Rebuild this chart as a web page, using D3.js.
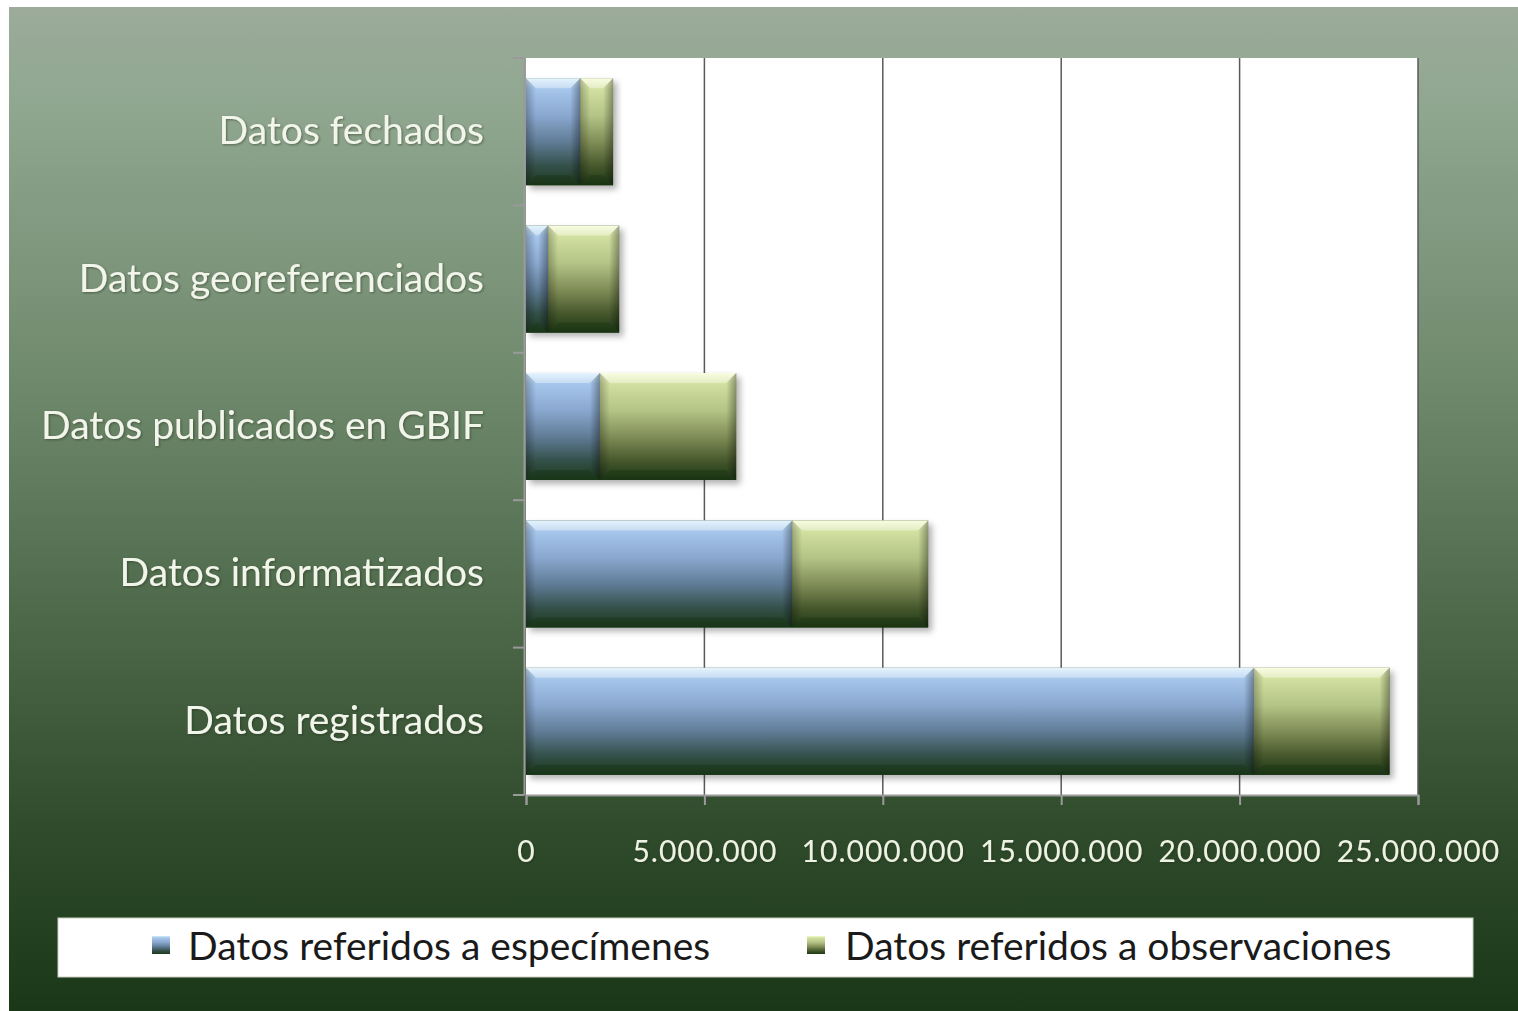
<!DOCTYPE html>
<html><head><meta charset="utf-8">
<script src="https://cdn.jsdelivr.net/npm/d3@7"></script>
<style>html,body{margin:0;padding:0;background:#fff;}svg{display:block;}</style>
</head><body>
<svg id="c" width="1518" height="1011"></svg>
<script>
const categories = ["Datos fechados","Datos georeferenciados","Datos publicados en GBIF","Datos informatizados","Datos registrados"];
const especimenes = [1520000, 620000, 2070000, 7460000, 20400000];
const observaciones = [920000, 1990000, 3820000, 3810000, 3800000];
const seriesNames = ["Datos referidos a especímenes","Datos referidos a observaciones"];
const tickValues = [0, 5000000, 10000000, 15000000, 20000000, 25000000];

const svg = d3.select("#c");
const W = 1518, H = 1011;
const defs = svg.append("defs");

const bg = defs.append("linearGradient").attr("id","bg").attr("x1",0).attr("y1",0).attr("x2",0).attr("y2",1);
[[0,"#9cab9a"],[0.08,"#92a892"],[0.35,"#728c70"],[0.6,"#4e6a4b"],[0.82,"#2f4b2c"],[1,"#1a3817"]].forEach(s=>bg.append("stop").attr("offset",s[0]).attr("stop-color",s[1]));

function barGrad(id, stops){
  const g = defs.append("linearGradient").attr("id",id).attr("x1",0).attr("y1",0).attr("x2",0).attr("y2",1);
  stops.forEach(s=>g.append("stop").attr("offset",s[0]).attr("stop-color",s[1]));
}
barGrad("gBlue",[[0,"#d6eefc"],[0.1,"#a6c6ec"],[0.35,"#8aa8cf"],[0.6,"#5f7b95"],[0.82,"#34504a"],[1,"#1d3a1c"]]);
barGrad("gGreen",[[0,"#f6fcd2"],[0.1,"#d2e0a0"],[0.35,"#b4c486"],[0.6,"#7f8c56"],[0.82,"#46582c"],[1,"#1e3816"]]);
const side = defs.append("linearGradient").attr("id","side").attr("x1",0).attr("y1",0).attr("x2",1).attr("y2",0);
side.append("stop").attr("offset",0).attr("stop-color","#000").attr("stop-opacity",0);
side.append("stop").attr("offset",1).attr("stop-color","#000").attr("stop-opacity",0.35);
const sideL = defs.append("linearGradient").attr("id","sideL").attr("x1",1).attr("y1",0).attr("x2",0).attr("y2",0);
sideL.append("stop").attr("offset",0).attr("stop-color","#000").attr("stop-opacity",0);
sideL.append("stop").attr("offset",1).attr("stop-color","#000").attr("stop-opacity",0.25);

const sh = defs.append("filter").attr("id","shadow").attr("x","-5%").attr("y","-10%").attr("width","115%").attr("height","130%");
sh.append("feDropShadow").attr("dx",4).attr("dy",4).attr("stdDeviation",3).attr("flood-color","#000").attr("flood-opacity",0.3);
const ts = defs.append("filter").attr("id","tshadow").attr("x","-5%").attr("y","-20%").attr("width","110%").attr("height","140%");
ts.append("feDropShadow").attr("dx",1).attr("dy",1).attr("stdDeviation",1).attr("flood-color","#1a2a18").attr("flood-opacity",0.5);

svg.append("rect").attr("x",0).attr("y",0).attr("width",W).attr("height",H).attr("fill","#fff");
svg.append("rect").attr("x",9).attr("y",7).attr("width",W-9).attr("height",H-7).attr("fill","url(#bg)");

const plot = {x0:526, x1:1418, y0:58, y1:795};
const x = d3.scaleLinear().domain([0,25000000]).range([plot.x0, plot.x1]);
const y = d3.scaleBand().domain(categories).range([plot.y0, plot.y1]).paddingInner(0.274).paddingOuter(0.137);

svg.append("rect").attr("x",plot.x0).attr("y",plot.y0).attr("width",plot.x1-plot.x0).attr("height",plot.y1-plot.y0).attr("fill","#ffffff");

svg.append("g").selectAll("line").data(tickValues.slice(1)).join("line")
  .attr("x1",d=>x(d)).attr("x2",d=>x(d)).attr("y1",plot.y0).attr("y2",plot.y1)
  .attr("stroke","#5a5a5a").attr("stroke-width",1.5);

const stackData = categories.map((c,i)=>({cat:c, segs:[
  {s:0, x0:0, x1:especimenes[i], fill:"url(#gBlue)"},
  {s:1, x0:especimenes[i], x1:especimenes[i]+observaciones[i], fill:"url(#gGreen)"}]}));

const bh = y.bandwidth();
const gBars = svg.append("g");
stackData.forEach(d=>{
  const yy = y(d.cat);
  const g = gBars.append("g");
  const total = d.segs[1].x1;
  g.append("rect").attr("x",x(0)).attr("y",yy).attr("width",x(total)-x(0)).attr("height",bh)
    .attr("fill","#223a1c").attr("filter","url(#shadow)");
  d.segs.forEach(s=>{
    const xa = x(s.x0), xb = x(s.x1), w = xb-xa;
    g.append("rect").attr("x",xa).attr("y",yy).attr("width",w).attr("height",bh).attr("fill",s.fill);
    const b = Math.min(10, w/2);
    g.append("path").attr("d",`M${xa},${yy}L${xb},${yy}L${xb-b},${yy+b}L${xa+b},${yy+b}Z`)
      .attr("fill","#ffffff").attr("opacity",0.35);
    g.append("path").attr("d",`M${xb},${yy}L${xb},${yy+bh}L${xb-b},${yy+bh-b}L${xb-b},${yy+b}Z`)
      .attr("fill","url(#side)");
    g.append("path").attr("d",`M${xa},${yy}L${xa+b},${yy+b}L${xa+b},${yy+bh-b}L${xa},${yy+bh}Z`)
      .attr("fill","url(#sideL)");
    g.append("path").attr("d",`M${xa},${yy+bh}L${xa+b},${yy+bh-b}L${xb-b},${yy+bh-b}L${xb},${yy+bh}Z`)
      .attr("fill","#0f2a0c").attr("opacity",0.3);
  });
});

const loc = d3.formatLocale({decimal:",", thousands:".", grouping:[3], currency:["",""]});
const fmt = loc.format(",d");
const xAxis = d3.axisBottom(x).tickValues(tickValues).tickFormat(fmt).tickSize(10).tickPadding(48);
const gx = svg.append("g").attr("transform",`translate(0,${plot.y1})`).call(xAxis);
gx.select(".domain").attr("stroke","#9a9a9a").attr("stroke-width",2);
gx.selectAll(".tick line").attr("stroke","#9a9a9a").attr("stroke-width",2);
gx.selectAll(".tick text").attr("fill","#eef2e2").attr("font-family","Lato, 'Open Sans', sans-serif")
  .attr("font-size",30).attr("letter-spacing","1px").attr("filter","url(#tshadow)").attr("dy","0.3em");

const yAxis = d3.axisLeft(y).tickSize(0).tickPadding(40);
const gy = svg.append("g").attr("transform",`translate(${plot.x0-2},0)`).call(yAxis);
gy.select(".domain").attr("stroke","#9a9a9a").attr("stroke-width",2);
gy.selectAll(".tick text").attr("fill","#f2f5ea").attr("font-family","Lato, 'Open Sans', sans-serif")
  .attr("font-size",39).attr("filter","url(#tshadow)");
const bounds = categories.map(c=>y(c)-y.step()*y.paddingInner()/2).concat([plot.y1]);
svg.append("g").selectAll("line").data(bounds).join("line")
  .attr("x1",plot.x0-13).attr("x2",plot.x0-2).attr("y1",d=>d).attr("y2",d=>d)
  .attr("stroke","#9a9a9a").attr("stroke-width",2);

const lg = svg.append("g");
lg.append("rect").attr("x",58).attr("y",918).attr("width",1415).attr("height",59).attr("fill","#ffffff")
  .attr("stroke","#c8d0c0").attr("stroke-width",1);
const legItems = [{name:seriesNames[0], fill:"url(#gBlue)", sx:152, tx:188},{name:seriesNames[1], fill:"url(#gGreen)", sx:807, tx:845}];
legItems.forEach(it=>{
  lg.append("rect").attr("x",it.sx).attr("y",936).attr("width",18).attr("height",18).attr("fill",it.fill);
  lg.append("text").attr("x",it.tx).attr("y",960).text(it.name)
    .attr("font-family","Lato, 'Open Sans', sans-serif").attr("font-size",39).attr("fill","#1a1a1a");
});
</script>
</body></html>
